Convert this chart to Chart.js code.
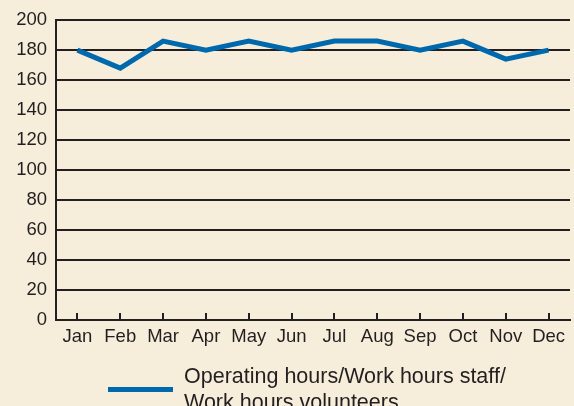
<!DOCTYPE html>
<html>
<head>
<meta charset="utf-8">
<script src="https://cdn.jsdelivr.net/npm/chart.js@4"></script>
<style>
  html, body { margin: 0; padding: 0; background: #f6eedb; }
  #wrap { position: relative; width: 574px; height: 406px; overflow: hidden; }
  #legend {
    position: absolute; left: 108px; top: 363px;
    display: flex; align-items: center;
    font-family: "Liberation Sans", Arial, sans-serif; font-size: 21.5px;
    color: #231f20; line-height: 26px;
  }
  #legend .swatch { width: 65px; height: 5px; margin-right: 11px; flex: none; }
  #legend .text { width: 330px; }
</style>
</head>
<body>
<div id="wrap">
  <canvas id="myChart" width="574" height="406"></canvas>
  <div id="legend"></div>
</div>
<script>
// chart values
const months = ["Jan", "Feb", "Mar", "Apr", "May", "Jun", "Jul", "Aug", "Sep", "Oct", "Nov", "Dec"];
const hoursRatio = [180, 168, 186, 180, 186, 180, 186, 186, 180, 186, 174, 180];
const seriesLabel = "Operating hours/Work hours staff/ Work hours volunteers";
const lineColor = "#0068ad";
const ink = "#231f20";

// small upward tick marks on the x axis
const innerTicks = {
  id: "innerTicks",
  afterDraw(chart) {
    const ctx = chart.ctx;
    const x = chart.scales.x;
    const bottom = chart.chartArea.bottom;
    ctx.save();
    ctx.strokeStyle = ink;
    ctx.lineWidth = 2;
    for (let i = 0; i < x.ticks.length; i++) {
      const px = Math.round(x.getPixelForTick(i));
      ctx.beginPath();
      ctx.moveTo(px, bottom);
      ctx.lineTo(px, bottom - 7);
      ctx.stroke();
    }
    ctx.restore();
  },
};

Chart.defaults.font.family = '"Liberation Sans", Arial, sans-serif';
Chart.defaults.font.size = 18.5;
Chart.defaults.color = ink;

const myChart = new Chart("myChart", {
  type: "line",
  data: {
    labels: months,
    datasets: [
      {
        label: seriesLabel,
        data: hoursRatio,
        borderColor: lineColor,
        borderWidth: 5,
        tension: 0,
        pointRadius: 0,
        fill: false,
      },
    ],
  },
  options: {
    responsive: false,
    animation: false,
    layout: { padding: { top: 16, right: 4, left: 0, bottom: 0 } },
    plugins: {
      legend: { display: false },
      tooltip: { enabled: false },
    },
    scales: {
      x: {
        offset: true,
        grid: { display: false, drawTicks: false },
        border: { display: true, color: ink, width: 2 },
        ticks: { padding: 6, maxRotation: 0 },
        afterFit(scale) { scale.height = 86; },
      },
      y: {
        min: 0,
        max: 200,
        ticks: { stepSize: 20, padding: 9 },
        grid: { color: ink, lineWidth: 2, drawTicks: false },
        border: { display: true, color: ink, width: 2 },
        afterFit(scale) { scale.width = 56; },
      },
    },
  },
  plugins: [innerTicks],
});

// html legend built from the dataset
const ds = myChart.data.datasets[0];
document.getElementById("legend").innerHTML =
  '<div class="swatch" style="background:' + ds.borderColor + '"></div>' +
  '<div class="text">' + ds.label + "</div>";
</script>
</body>
</html>
